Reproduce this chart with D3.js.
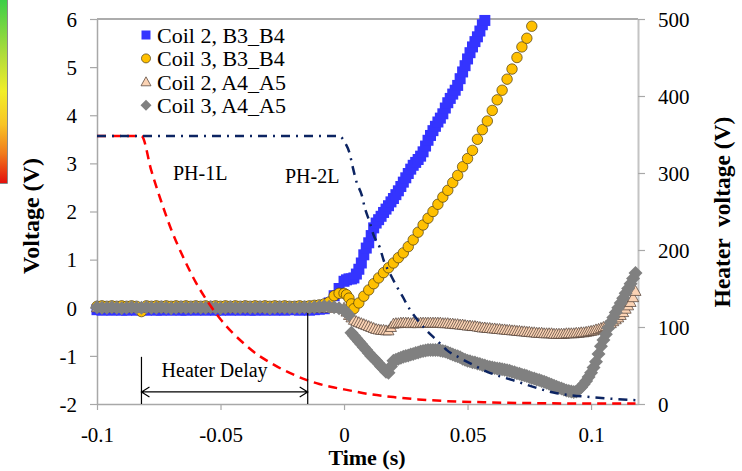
<!DOCTYPE html>
<html>
<head>
<meta charset="utf-8">
<script src="https://cdn.jsdelivr.net/npm/d3@7"></script>
<style>
body { margin: 0; background: #fff; }
svg { display: block; }
text { font-family: "Liberation Serif", "Times New Roman", serif; }
</style>
</head>
<body>
<div id="chart"></div>
<script>
var width = 742, height = 471;

// time grid (s): coarse before the quench, fine after it
var time = [
  -0.1, -0.098, -0.096, -0.094, -0.092, -0.09, -0.088, -0.086, -0.084, -0.082,
  -0.08, -0.078, -0.076, -0.074, -0.072, -0.07, -0.068, -0.066, -0.064, -0.062,
  -0.06, -0.058, -0.056, -0.054, -0.052, -0.05, -0.048, -0.046, -0.044, -0.042,
  -0.04, -0.038, -0.036, -0.034, -0.032, -0.03, -0.028, -0.026, -0.024, -0.022,
  -0.02, -0.018, -0.016, -0.014, -0.012, -0.01, -0.008, -0.006, -0.004, -0.002,
  0, 0.001, 0.002, 0.003, 0.004, 0.005, 0.006, 0.007, 0.008, 0.009,
  0.01, 0.011, 0.012, 0.013, 0.014, 0.015, 0.016, 0.017, 0.018, 0.019,
  0.02, 0.021, 0.022, 0.023, 0.024, 0.025, 0.026, 0.027, 0.028, 0.029,
  0.03, 0.031, 0.032, 0.033, 0.034, 0.035, 0.036, 0.037, 0.038, 0.039,
  0.04, 0.041, 0.042, 0.043, 0.044, 0.045, 0.046, 0.047, 0.048, 0.049,
  0.05, 0.051, 0.052, 0.053, 0.054, 0.055, 0.056, 0.057, 0.058, 0.059,
  0.06, 0.061, 0.062, 0.063, 0.064, 0.065, 0.066, 0.067, 0.068, 0.069,
  0.07, 0.071, 0.072, 0.073, 0.074, 0.075, 0.076, 0.077, 0.078, 0.079,
  0.08, 0.081, 0.082, 0.083, 0.084, 0.085, 0.086, 0.087, 0.088, 0.089,
  0.09, 0.091, 0.092, 0.093, 0.094, 0.095, 0.096, 0.097, 0.098, 0.099,
  0.1, 0.101, 0.102, 0.103, 0.104, 0.105, 0.106, 0.107, 0.108, 0.109,
  0.11, 0.111, 0.112, 0.113, 0.114, 0.115, 0.116, 0.117, 0.118
];

// Coil 2, B3_B4 (V)
var coil2B = [
  -0.04, -0.05, -0.04, -0.05, -0.04, -0.05, -0.05, -0.04, -0.05, -0.04,
  -0.05, -0.04, -0.05, -0.05, -0.04, -0.05, -0.04, -0.05, -0.05, -0.04,
  -0.05, -0.04, -0.05, -0.04, -0.05, -0.05, -0.04, -0.05, -0.04, -0.05,
  -0.04, -0.05, -0.05, -0.04, -0.05, -0.04, -0.05, -0.04, -0.05, -0.04,
  -0.04, -0.05, -0.04, -0.05, -0.04, -0.03, -0.02, 0.1, 0.25, 0.4,
  0.55, 0.58, 0.6, 0.6, 0.62, 0.7, 0.8, 0.93, 1.1, 1.24,
  1.35, 1.5, 1.66, 1.76, 1.83, 1.9, 1.98, 2.05, 2.12, 2.2,
  2.27, 2.35, 2.43, 2.52, 2.61, 2.7, 2.79, 2.88, 2.96, 3.02,
  3.08, 3.15, 3.24, 3.36, 3.48, 3.58, 3.68, 3.77, 3.86, 3.94,
  4.03, 4.15, 4.26, 4.35, 4.44, 4.52, 4.62, 4.76, 4.9, 5.03,
  5.17, 5.3, 5.42, 5.53, 5.63, 5.75, 5.88, 5.97, null, null,
  null, null, null, null, null, null, null, null, null, null,
  null, null, null, null, null, null, null, null, null, null,
  null, null, null, null, null, null, null, null, null, null,
  null, null, null, null, null, null, null, null, null, null,
  null, null, null, null, null, null, null, null, null, null,
  null, null, null, null, null, null, null, null, null
];

// Coil 3, B3_B4 (V)
var coil3B = [
  0.03, 0.04, 0.03, 0.04, 0.03, 0.04, 0.03, 0.04, 0.03, -0.08,
  0.04, 0.03, 0.04, 0.03, 0.04, 0.03, 0.04, 0.03, 0.04, 0.03,
  0.04, 0.03, 0.04, 0.03, 0.04, 0.03, 0.04, 0.03, 0.04, 0.03,
  0.04, 0.03, 0.04, 0.03, 0.04, 0.03, 0.04, 0.03, 0.04, 0.03,
  0.03, 0.04, 0.03, 0.04, 0.05, 0.06, 0.08, 0.12, 0.25, 0.3,
  0.3, 0.27, 0.2, 0.08, -0.02, 0.02, 0.1, 0.17, 0.24, 0.3,
  0.37, 0.43, 0.5, 0.56, 0.62, 0.68, 0.73, 0.78, 0.83, 0.88,
  0.93, 0.98, 1.04, 1.09, 1.14, 1.2, 1.27, 1.34, 1.41, 1.49,
  1.57, 1.64, 1.72, 1.79, 1.86, 1.93, 2.0, 2.08, 2.15, 2.23,
  2.3, 2.37, 2.44, 2.52, 2.6, 2.67, 2.75, 2.84, 2.93, 3.02,
  3.1, 3.18, 3.27, 3.38, 3.5, 3.6, 3.7, 3.79, 3.88, 3.99,
  4.1, 4.21, 4.32, 4.42, 4.52, 4.63, 4.75, 4.85, 4.96, 5.08,
  5.2, 5.31, 5.42, 5.51, 5.6, 5.72, 5.85, 5.93, null, null,
  null, null, null, null, null, null, null, null, null, null,
  null, null, null, null, null, null, null, null, null, null,
  null, null, null, null, null, null, null, null, null, null,
  null, null, null, null, null, null, null, null, null
];

// Coil 2, A4_A5 (V)
var coil2A = [
  0.01, 0.0, 0.01, 0.0, 0.01, 0.0, 0.01, 0.0, 0.01, 0.0,
  0.01, 0.0, 0.01, 0.0, 0.01, 0.0, 0.01, 0.0, 0.01, 0.0,
  0.01, 0.0, 0.01, 0.0, 0.01, 0.0, 0.01, 0.0, 0.01, 0.0,
  0.01, 0.0, 0.01, 0.0, 0.01, 0.0, 0.01, 0.0, 0.01, 0.0,
  0.01, 0.0, 0.01, 0.0, 0.01, 0.0, 0.01, 0.0, 0.01, 0.0,
  0.0, -0.08, -0.15, -0.2, -0.25, -0.28, -0.3, -0.32, -0.34, -0.36,
  -0.38, -0.4, -0.42, -0.44, -0.45, -0.46, -0.46, -0.47, -0.47, -0.4,
  -0.33, -0.32, -0.32, -0.31, -0.31, -0.31, -0.31, -0.32, -0.31, -0.31,
  -0.32, -0.31, -0.31, -0.31, -0.31, -0.31, -0.31, -0.31, -0.31, -0.31,
  -0.32, -0.32, -0.32, -0.33, -0.33, -0.34, -0.34, -0.35, -0.35, -0.36,
  -0.37, -0.37, -0.38, -0.38, -0.39, -0.4, -0.41, -0.41, -0.42, -0.42,
  -0.43, -0.43, -0.44, -0.44, -0.45, -0.45, -0.46, -0.46, -0.47, -0.47,
  -0.48, -0.48, -0.49, -0.49, -0.5, -0.5, -0.51, -0.51, -0.52, -0.52,
  -0.52, -0.53, -0.53, -0.53, -0.53, -0.54, -0.54, -0.54, -0.54, -0.54,
  -0.53, -0.53, -0.53, -0.53, -0.52, -0.52, -0.51, -0.51, -0.5, -0.49,
  -0.48, -0.47, -0.45, -0.44, -0.42, -0.4, -0.38, -0.35, -0.32, -0.28,
  -0.24, -0.2, -0.15, -0.09, -0.02, 0.05, 0.12, 0.22, 0.35
];

// Coil 3, A4_A5 (V)
var coil3A = [
  0.01, 0.0, 0.0, 0.01, 0.0, -0.01, 0.0, 0.01, 0.0, 0.0,
  0.01, 0.0, 0.0, 0.01, 0.0, -0.01, 0.0, 0.01, 0.0, 0.0,
  0.01, 0.0, 0.0, 0.01, 0.0, -0.01, 0.0, 0.01, 0.0, 0.0,
  0.01, 0.0, 0.0, 0.01, 0.0, -0.01, 0.0, 0.01, 0.0, 0.0,
  0.0, 0.0, 0.01, 0.0, 0.01, 0.02, 0.03, 0.02, 0.01, -0.01,
  -0.05, -0.1, -0.15, -0.52, -0.58, -0.64, -0.7, -0.76, -0.82, -0.88,
  -0.94, -1.0, -1.05, -1.1, -1.16, -1.22, -1.27, -1.33, -1.35, -1.22,
  -1.1, -1.08, -1.06, -1.04, -1.02, -1.0, -0.99, -0.97, -0.96, -0.94,
  -0.93, -0.91, -0.9, -0.89, -0.88, -0.88, -0.88, -0.88, -0.88, -0.89,
  -0.9, -0.91, -0.93, -0.95, -0.97, -0.99, -1.01, -1.03, -1.06, -1.08,
  -1.1, -1.11, -1.13, -1.14, -1.16, -1.17, -1.19, -1.2, -1.22, -1.23,
  -1.24, -1.25, -1.26, -1.27, -1.28, -1.29, -1.3, -1.31, -1.33, -1.34,
  -1.36, -1.37, -1.39, -1.4, -1.42, -1.44, -1.46, -1.47, -1.49, -1.5,
  -1.52, -1.54, -1.56, -1.58, -1.6, -1.62, -1.64, -1.66, -1.68, -1.7,
  -1.72, -1.73, -1.74, -1.75, -1.74, -1.7, -1.65, -1.59, -1.52, -1.44,
  -1.35, -1.24, -1.12, -0.96, -0.8, -0.67, -0.55, -0.42, -0.3, -0.2,
  -0.1, 0.0, 0.1, 0.2, 0.3, 0.4, 0.5, 0.61, 0.72
];

// heater voltages (right axis, V)
var ph1Time = [-0.1, -0.082, -0.078, -0.074, -0.07, -0.065, -0.06, -0.055, -0.05, -0.045, -0.04,
  -0.035, -0.03, -0.025, -0.02, -0.015, -0.01, -0.005, 0, 0.01, 0.02, 0.03, 0.04, 0.06, 0.08, 0.1, 0.118];
var ph1Volt = [348, 348, 303, 263, 227, 190, 158, 132, 110, 92, 77,
  64, 54, 45, 37.5, 31, 26, 22, 19, 13, 9, 6, 4, 2, 1, 0.5, 0.5];

var ph2Time = [-0.1, -0.002, 0.0003, 0.0023, 0.0035, 0.0051, 0.0072, 0.0084, 0.0104, 0.012, 0.0145,
  0.0161, 0.0185, 0.0213, 0.0238, 0.0266, 0.0298, 0.0339, 0.0375, 0.0416, 0.0468, 0.0521,
  0.0578, 0.0683, 0.0861, 0.0995, 0.118];
var ph2Volt = [348, 348, 340, 325, 308, 288, 271, 255, 236, 219, 203,
  186, 170, 153, 139, 123, 109, 94, 83, 70, 60, 51,
  42, 31, 14, 9, 5];

var xTicks = [-0.1, -0.05, 0, 0.05, 0.1];
var xTickLabels = ["-0.1", "-0.05", "0", "0.05", "0.1"];
var yLeftTicks = [-2, -1, 0, 1, 2, 3, 4, 5, 6];
var yRightTicks = [0, 100, 200, 300, 400, 500];

var legendLabels = ["Coil 2, B3_B4", "Coil 3, B3_B4", "Coil 2, A4_A5", "Coil 3, A4_A5"];

var delayStart = -0.082, delayEnd = -0.0147;

var svg = d3.select("#chart").append("svg")
    .attr("width", width)
    .attr("height", height);

var x = d3.scaleLinear().domain([-0.1, 0.119]).range([97, 638]);
var yLeft = d3.scaleLinear().domain([-2, 6]).range([404, 19]);
var yRight = d3.scaleLinear().domain([0, 500]).range([404, 19]);

// leftover colour scale strip at the left edge
var defs = svg.append("defs");
var grad = defs.append("linearGradient").attr("id", "strip")
    .attr("x1", 0).attr("y1", 0).attr("x2", 0).attr("y2", 1);
[["0", "#3ccf48"], ["0.3", "#b0dc3a"], ["0.5", "#f2ee28"], ["0.68", "#f8c426"], ["0.84", "#f07a1c"], ["1", "#e4100c"]]
    .forEach(function (s) {
        grad.append("stop").attr("offset", s[0]).attr("stop-color", s[1]);
    });
svg.append("rect").attr("x", 0).attr("y", 0).attr("width", 7).attr("height", 183)
    .attr("fill", "url(#strip)");
svg.append("path").attr("d", "M7.5,0V183.5H0").attr("fill", "none").attr("stroke", "#8a8a8a");

// top border
svg.append("line")
    .attr("x1", x(-0.1)).attr("x2", x(0.119))
    .attr("y1", yLeft(6)).attr("y2", yLeft(6))
    .attr("stroke", "#5a5a5a").attr("stroke-width", 1.2);

// axes
var xAxis = d3.axisBottom(x).tickValues(xTicks)
    .tickFormat(function (d) { return xTickLabels[xTicks.indexOf(d)]; })
    .tickSize(6).tickSizeOuter(0);
var gx = svg.append("g").attr("transform", "translate(0," + yLeft(-2) + ")").call(xAxis);

var yAxisL = d3.axisLeft(yLeft).tickValues(yLeftTicks)
    .tickFormat(function (d) { return String(d); })
    .tickSize(7).tickSizeOuter(0);
var gyl = svg.append("g").attr("transform", "translate(" + x(-0.1) + ",0)").call(yAxisL);

var yAxisR = d3.axisRight(yRight).tickValues(yRightTicks)
    .tickFormat(function (d) { return String(d); })
    .tickSize(7).tickSizeOuter(0);
var gyr = svg.append("g").attr("transform", "translate(" + x(0.119) + ",0)").call(yAxisR);

[gx, gyl, gyr].forEach(function (g) {
    g.attr("font-family", "Liberation Serif, Times New Roman, serif").attr("font-size", 21);
    g.select(".domain").attr("stroke", "#a8a8a8").attr("stroke-width", 1.5);
    g.selectAll(".tick line").attr("stroke", "#a8a8a8").attr("stroke-width", 1.2);
    g.selectAll(".tick text").attr("fill", "#000");
});
gyr.select(".domain").attr("stroke", "#c4c4c4").attr("stroke-width", 2);
gx.selectAll(".tick text").attr("y", 38).attr("dy", 0);
gyl.selectAll(".tick text").attr("x", -20).attr("dy", "0.35em");
gyr.selectAll(".tick text").attr("x", 20).attr("dy", "0.35em");

// axis titles
svg.append("text")
    .attr("transform", "translate(39,216) rotate(-90)")
    .attr("text-anchor", "middle")
    .style("font-size", "24px").style("font-weight", "bold")
    .text("Voltage (V)");
svg.append("text")
    .attr("transform", "translate(730,212) rotate(-90)")
    .attr("text-anchor", "middle")
    .style("font-size", "23.5px").style("font-weight", "bold")
    .style("white-space", "pre")
    .text("Heater  voltage (V)");
svg.append("text")
    .attr("x", 367).attr("y", 465)
    .attr("text-anchor", "middle")
    .style("font-size", "22px").style("font-weight", "bold")
    .text("Time (s)");

// marker shapes
var shapes = {
    square: "M-5.5,-5.5H5.5V5.5H-5.5Z",
    circle: d3.symbol().type(d3.symbolCircle).size(86)(),
    triangle: "M0,-5.5L5.5,4.5L-5.5,4.5Z",
    diamond: "M0,-7L7,0L0,7L-7,0Z"
};

// minGap: smallest on-screen distance between two drawn markers once t >= thinFrom
var series = [
    {values: coil2B, shape: shapes.square, fill: "#3434ff", stroke: "none", minGap: 0, thinFrom: 1},
    {values: coil3B, shape: shapes.circle, fill: "#ffc000", stroke: "#4a3a10", minGap: 6.5, thinFrom: 0.005},
    {values: coil2A, shape: shapes.triangle, fill: "#fbd3b4", stroke: "#4a3a30", minGap: 0, thinFrom: 1},
    {values: coil3A, shape: shapes.diamond, fill: "#808080", stroke: "none", minGap: 0, thinFrom: 1}
];

series.forEach(function (s) {
    var pts = [];
    var last = null;
    time.forEach(function (t, i) {
        var v = s.values[i];
        if (v === null) return;
        var px = x(t), py = yLeft(v);
        if (t >= s.thinFrom && last && Math.hypot(px - last[0], py - last[1]) < s.minGap) return;
        pts.push({t: t, v: v});
        last = [px, py];
    });
    svg.append("g").selectAll("path")
        .data(pts)
        .enter().append("path")
        .attr("transform", function (d) {
            return "translate(" + x(d.t) + "," + yLeft(d.v) + ")";
        })
        .attr("d", s.shape)
        .attr("fill", s.fill)
        .attr("stroke", s.stroke)
        .attr("stroke-width", 0.7);
});

// heater voltage lines
var heaterLine = d3.line()
    .x(function (d) { return x(d.t); })
    .y(function (d) { return yRight(d.v); })
    .curve(d3.curveMonotoneX);

var ph1 = ph1Time.map(function (t, i) { return {t: t, v: ph1Volt[i]}; });
var ph2 = ph2Time.map(function (t, i) { return {t: t, v: ph2Volt[i]}; });

svg.append("path")
    .datum(ph1)
    .attr("fill", "none")
    .attr("stroke", "#ff0000")
    .attr("stroke-width", 2.5)
    .attr("stroke-dasharray", "9,6")
    .attr("d", heaterLine);

svg.append("path")
    .datum(ph2)
    .attr("fill", "none")
    .attr("stroke", "#0c2462")
    .attr("stroke-width", 2.5)
    .attr("stroke-dasharray", "9,6,2,6")
    .attr("d", heaterLine);

svg.append("text").attr("x", 173).attr("y", 180)
    .style("font-size", "20px").text("PH-1L");
svg.append("text").attr("x", 285).attr("y", 183)
    .style("font-size", "20px").text("PH-2L");

// heater delay annotation
svg.append("line")
    .attr("x1", x(delayStart)).attr("x2", x(delayStart))
    .attr("y1", yLeft(-1.02)).attr("y2", yLeft(-2))
    .attr("stroke", "#000").attr("stroke-width", 1.2);
svg.append("line")
    .attr("x1", x(delayEnd)).attr("x2", x(delayEnd))
    .attr("y1", yLeft(-0.11)).attr("y2", yLeft(-2))
    .attr("stroke", "#000").attr("stroke-width", 1.2);

var ay = yLeft(-1.75);
var ax1 = x(delayStart), ax2 = x(delayEnd);
svg.append("path")
    .attr("d", "M" + ax1 + "," + ay + "H" + ax2 +
        "M" + (ax1 + 8) + "," + (ay - 5) + "L" + ax1 + "," + ay + "L" + (ax1 + 8) + "," + (ay + 5) +
        "M" + (ax2 - 8) + "," + (ay - 5) + "L" + ax2 + "," + ay + "L" + (ax2 - 8) + "," + (ay + 5))
    .attr("fill", "none").attr("stroke", "#000").attr("stroke-width", 1.2);

svg.append("text")
    .attr("x", (ax1 + ax2) / 2 - 10).attr("y", 377)
    .attr("text-anchor", "middle")
    .style("font-size", "20px")
    .text("Heater Delay");

// legend
var legendShapes = [
    {d: "M-4.5,-4.5H4.5V4.5H-4.5Z", fill: "#3434ff", stroke: "none"},
    {d: d3.symbol().type(d3.symbolCircle).size(64)(), fill: "#ffc000", stroke: "#4a3a10"},
    {d: "M0,-5L5,4L-5,4Z", fill: "#fbd3b4", stroke: "#4a3a30"},
    {d: "M0,-5.5L5.5,0L0,5.5L-5.5,0Z", fill: "#808080", stroke: "none"}
];
var legend = svg.append("g").selectAll("g")
    .data(legendLabels)
    .enter().append("g")
    .attr("transform", function (d, i) { return "translate(146," + (35 + i * 23.4) + ")"; });
legend.append("path")
    .attr("d", function (d, i) { return legendShapes[i].d; })
    .attr("fill", function (d, i) { return legendShapes[i].fill; })
    .attr("stroke", function (d, i) { return legendShapes[i].stroke; })
    .attr("stroke-width", 0.7);
legend.append("text")
    .attr("x", 11).attr("dy", "0.35em")
    .style("font-size", "22px")
    .text(function (d) { return d; });
</script>
</body>
</html>
